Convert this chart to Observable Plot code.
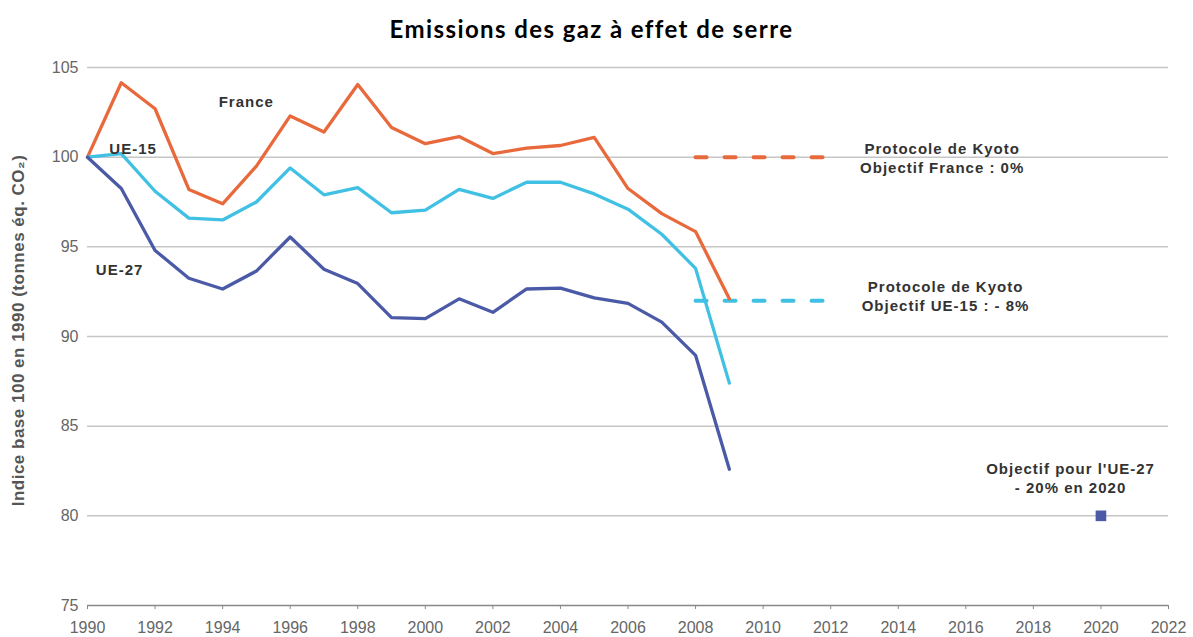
<!DOCTYPE html>
<html><head><meta charset="utf-8">
<script src="https://cdn.jsdelivr.net/npm/d3@7"></script>
<script src="https://cdn.jsdelivr.net/npm/@observablehq/plot@0.6"></script>
<style>
body{margin:0;background:#fff;}
#title{height:45px;line-height:58px;text-align:center;font-family:Lato,"Open Sans",sans-serif;font-weight:bold;font-size:24px;letter-spacing:1.4px;color:#000;padding-right:10px;}
</style></head><body>
<div id="title">Emissions des gaz à effet de serre</div>
<div id="chart"></div>
<script>
const years = [1990,1991,1992,1993,1994,1995,1996,1997,1998,1999,2000,2001,2002,2003,2004,2005,2006,2007,2008,2009];
const france = [100,104.15,102.7,98.2,97.4,99.5,102.3,101.4,104.05,101.65,100.75,101.15,100.2,100.5,100.65,101.1,98.25,96.85,95.85,92.1];
const ue15 = [100,100.2,98.1,96.6,96.5,97.5,99.4,97.9,98.3,96.9,97.05,98.2,97.7,98.6,98.6,97.95,97.1,95.7,93.8,87.4];
const ue27 = [100,98.25,94.8,93.25,92.65,93.65,95.55,93.75,92.95,91.05,91.0,92.1,91.35,92.65,92.7,92.15,91.85,90.8,88.95,82.6];
const kyotoFranceYears = [2008,2012];
const kyotoFranceValue = 100;
const kyotoUE15Years = [2008,2012];
const kyotoUE15Value = 92;
const targetUE27Year = 2020;
const targetUE27Value = 80;
const seriesNames = ["France","UE-15","UE-27"];
const seriesColors = ["#E8693C","#40C0E3","#4B5AA6"];
const yTicks = [75,80,85,90,95,100,105];
const xTicks = d3.range(1990,2023,2);
const labels = [
  {x:1994.7,y:103.15,t:"France"},
  {x:1991.35,y:100.5,t:"UE-15"},
  {x:1990.95,y:93.8,t:"UE-27"},
  {x:2015.3,y:100.0,t:"Protocole de Kyoto\nObjectif France : 0%"},
  {x:2015.4,y:92.3,t:"Protocole de Kyoto\nObjectif UE-15 : - 8%"},
  {x:2019.1,y:82.15,t:"Objectif pour l'UE-27\n- 20% en 2020"}
];

const data = [];
seriesNames.forEach((s,i)=>{
  const vals=[france,ue15,ue27][i];
  years.forEach((y,j)=>data.push({series:s,year:y,value:vals[j]}));
});
const kyotoF = kyotoFranceYears.map(y=>({year:y,value:kyotoFranceValue}));
const kyotoU = kyotoUE15Years.map(y=>({year:y,value:kyotoUE15Value}));

const chart = Plot.plot({
  width:1193, height:592,
  marginLeft:87, marginRight:25, marginTop:22, marginBottom:32,
  style:{fontFamily:"'Liberation Sans',Arial,sans-serif",fontSize:"16px",color:"#666",overflow:"visible"},
  x:{domain:[1990,2022],label:null},
  y:{domain:[75,105],label:null},
  color:{domain:seriesNames,range:seriesColors},
  marks:[
    Plot.ruleY(yTicks.filter(d=>d>75),{stroke:"#c6c6c6",strokeWidth:1.5}),
    Plot.ruleY([75],{stroke:"#888",strokeWidth:1.5}),
    Plot.line(kyotoF,{x:"year",y:"value",stroke:seriesColors[0],strokeWidth:4,strokeDasharray:"11 18"}),
    Plot.line(kyotoU,{x:"year",y:"value",stroke:seriesColors[1],strokeWidth:4,strokeDasharray:"11 18"}),
    Plot.line(data,{x:"year",y:"value",stroke:"series",z:"series",strokeWidth:3.3}),
    Plot.dot([{year:targetUE27Year,value:targetUE27Value}],{x:"year",y:"value",symbol:"square",r:6,fill:seriesColors[2]}),
    Plot.text(labels,{x:"x",y:"y",text:"t",fontWeight:"bold",fontSize:15,fill:"#333",lineHeight:1.3}),
    Plot.axisX({ticks:xTicks,tickFormat:d=>String(d),tickSize:4,tickPadding:12,stroke:"#888",fill:"#666",fontSize:16}),
    Plot.axisY({ticks:yTicks,tickSize:0,tickPadding:9,fill:"#666",fontSize:16}),
    Plot.text(["Indice base 100 en 1990 (tonnes éq. CO₂)"],{frameAnchor:"left",dx:-69,dy:-6,rotate:-90,textAnchor:"middle",fontWeight:"bold",fontSize:17,fill:"#555"})
  ]
});
d3.select(chart).selectAll('g[fill="#333"] text').style("letter-spacing","1px");
d3.select(chart).selectAll('g[fill="#555"] text').style("letter-spacing","0.5px");
document.getElementById("chart").appendChild(chart);
</script>
</body></html>
